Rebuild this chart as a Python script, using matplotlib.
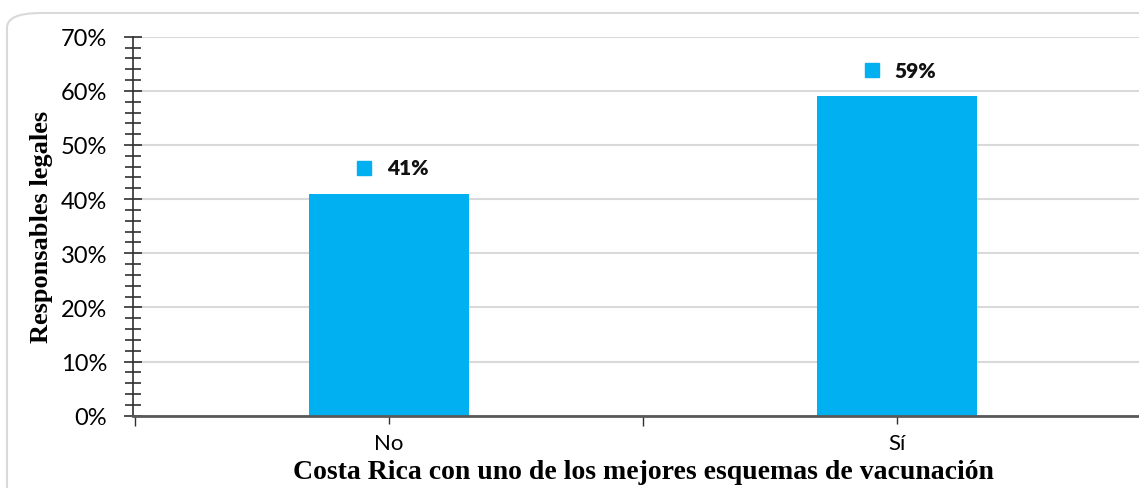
import matplotlib
matplotlib.use("Agg")
import matplotlib.pyplot as plt
from matplotlib import rcParams
from matplotlib.patches import FancyBboxPatch
from matplotlib.ticker import MultipleLocator, FuncFormatter, FixedLocator
from matplotlib.transforms import offset_copy

rcParams['font.family'] = 'Lato'
rcParams['font.size'] = 17

categorias = ["No", "Sí"]
porcentajes = [41, 59]
etiquetas = ["41%", "59%"]

azul = "#00B0F0"
gris = "#D9D9D9"
eje = "#303030"

fig = plt.figure(figsize=(11.39, 4.89), dpi=100)
ax = fig.add_axes([133 / 1139, 72.3 / 489, 1 - 133 / 1139, 379 / 489])

pos = list(range(len(categorias)))
ax.bar(pos, [p / 100 for p in porcentajes], width=0.315, color=azul, zorder=3)

ax.set_xlim(-0.504, 1.476)
ax.set_ylim(0, 0.70)

# eje y: mayores cada 10 %, menores cada 2 %
ax.yaxis.set_major_locator(MultipleLocator(0.1))
ax.yaxis.set_minor_locator(MultipleLocator(0.02))
ax.yaxis.set_major_formatter(FuncFormatter(lambda v, _: f"{v * 100:.0f}%"))
ax.tick_params(axis='y', which='major', direction='inout', length=13, width=1.2,
               color=eje, pad=12, labelsize=17)
ax.tick_params(axis='y', which='minor', direction='inout', length=12, width=1.2,
               color=eje)

ax.xaxis.set_major_locator(FixedLocator(pos))
ax.xaxis.set_minor_locator(FixedLocator([-0.5, 0.5]))
ax.set_xticklabels(categorias)
ax.tick_params(axis='x', which='major', direction='inout', length=11, width=1,
               color=eje, pad=7, labelsize=16)
ax.tick_params(axis='x', which='minor', direction='out', length=7, width=1,
               color=eje)

ax.grid(axis='y', color=gris, linewidth=1.5, zorder=0)
ax.set_axisbelow(True)
for s in ['top', 'right']:
    ax.spines[s].set_visible(False)
ax.spines['left'].set_color(eje)
ax.spines['left'].set_linewidth(1.2)
ax.spines['bottom'].set_color("#595959")
ax.spines['bottom'].set_linewidth(2)
ax.spines['bottom'].set_zorder(4)

# etiquetas de datos con su cuadradito de leyenda
for x, p, txt in zip(pos, porcentajes, etiquetas):
    y = p / 100
    tr_cuadro = offset_copy(ax.transData, fig=fig, x=-25, y=26, units='dots')
    ax.plot([x], [y], marker='s', markersize=9.5, color=azul, transform=tr_cuadro,
            clip_on=False, zorder=5)
    ax.annotate(txt, (x, y), xytext=(18.5, 26), textcoords='offset pixels',
                ha='center', va='center', fontsize=15, fontweight='heavy',
                color="#111111")

fig.text(42 / 1139, 1 - 226.5 / 489, "Responsables legales", rotation=90,
         ha='center', va='center', fontsize=19, fontweight='bold',
         family='Liberation Serif')
fig.text(643 / 1139, 1 - 479 / 489, "Costa Rica con uno de los mejores esquemas de vacunación",
         ha='center', va='baseline', fontsize=20, fontweight='bold',
         family='Liberation Serif')

# marco redondeado del área del gráfico
marco = FancyBboxPatch((7 / 1139, -0.05), 1.05, 1 - 14 / 489 + 0.05,
                       boxstyle="round,pad=0,rounding_size=0.03",
                       transform=fig.transFigure, facecolor='none',
                       edgecolor=gris, linewidth=1.5, zorder=-1)
fig.patches.append(marco)

fig.savefig("out.png", dpi=100)
